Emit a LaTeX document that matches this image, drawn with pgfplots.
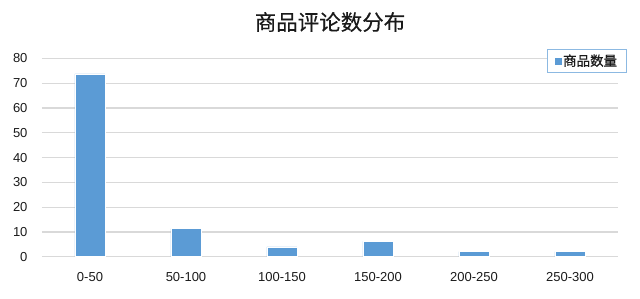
\documentclass[border=0pt]{standalone}
\usepackage{fontspec}
\setmainfont{Liberation Sans}
\newfontfamily\cjk[FakeBold=0.4]{Noto Sans CJK SC}
\usepackage{pgfplots}
\pgfplotsset{compat=1.18}
\definecolor{barblue}{HTML}{5B9BD5}
\definecolor{gridgray}{HTML}{D9D9D9}
\definecolor{txt}{HTML}{1A1A1A}
\begin{document}
\begin{tikzpicture}
\useasboundingbox (-42pt,-41.3pt) rectangle (598pt,256.7pt);
\begin{axis}[
  scale only axis,
  width=576pt, height=198.2pt,
  xmin=-0.5, xmax=5.5, ymin=0, ymax=80,
  ytick={0,10,...,80},
  xtick={0,1,2,3,4,5},
  xticklabels={0-50,50-100,100-150,150-200,200-250,250-300},
  axis line style={draw=none},
  major tick length=0pt,
  ymajorgrids, grid style={gridgray, line width=1.2pt},
  /pgf/number format/assume math mode=true,
  tick label style={font=\fontsize{13}{15}\selectfont, text=txt},
  yticklabel style={xshift=-11pt},
  xticklabel style={yshift=-12.5pt},
  ybar, bar width=30pt,
  legend style={at={(1,1)}, anchor=north east, xshift=8.5pt, yshift=9.5pt,
    draw=barblue!70, line width=0.8pt, font=\cjk\fontsize{13.5}{15}\selectfont,
    text=txt, inner xsep=7pt, inner ysep=3pt},
  legend image code/.code={\fill[barblue] (0pt,-3pt) rectangle (6pt,3pt);},
  title={\cjk 商品评论数分布},
  title style={font=\cjk\fontsize{21.5}{24}\selectfont, text=txt, yshift=17pt},
]
\addplot[fill=barblue, draw=white, line width=0.5pt] coordinates {(0,73.8) (1,11.3) (2,4) (3,6.2) (4,2.1) (5,2.1)};
\addlegendentry{商品数量}
\end{axis}
\end{tikzpicture}
\end{document}
